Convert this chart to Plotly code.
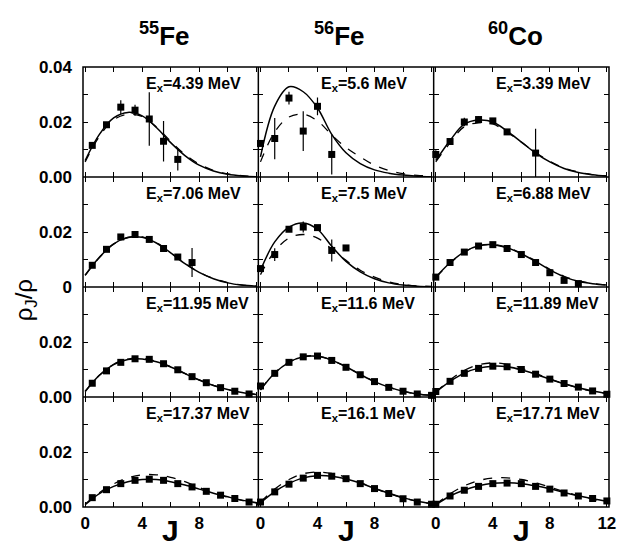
import plotly.graph_objects as go
from plotly.subplots import make_subplots

# ---------------- data ----------------
J_curve = [0, 1, 2, 3, 4, 5, 6, 7, 8, 9, 10, 11, 12]
J_half = [0.5, 1.5, 2.5, 3.5, 4.5, 5.5, 6.5, 7.5, 8.5, 9.5, 10.5, 11.5]
J_int = [0, 1, 2, 3, 4, 5, 6, 7, 8, 9, 10, 11, 12]

col_nuclei = ["55", "56", "60"]
col_elements = ["Fe", "Fe", "Co"]
row_energies = [
    ["4.39", "5.6", "3.39"],
    ["7.06", "7.5", "6.88"],
    ["11.95", "11.6", "11.89"],
    ["17.37", "16.1", "17.71"],
]

# Row 1
fe55_r1_J = [0.5, 1.5, 2.5, 3.5, 4.5, 5.5, 6.5]
fe55_r1_y = [0.0115, 0.0190, 0.0254, 0.0243, 0.0211, 0.0130, 0.0064]
fe55_r1_err = [0.0006, 0.0007, 0.0025, 0.0020, 0.0097, 0.0074, 0.0040]
fe55_r1_solid = [0.0060, 0.0155, 0.0215, 0.0235, 0.0222, 0.0180, 0.0125, 0.0078, 0.0043, 0.0022, 0.0010, 0.0004, 0.0001]
fe55_r1_dash = [0.0055, 0.0148, 0.0208, 0.0228, 0.0220, 0.0182, 0.0130, 0.0082, 0.0047, 0.0024, 0.0011, 0.0005, 0.0002]

fe56_r1_J = [0, 1, 2, 3, 4, 5]
fe56_r1_y = [0.0122, 0.0140, 0.0287, 0.0167, 0.0257, 0.0082]
fe56_r1_err = [0.0005, 0.0075, 0.0023, 0.0072, 0.0032, 0.0073]
fe56_r1_solid = [0.0073, 0.0258, 0.0328, 0.0310, 0.0251, 0.0155, 0.0088, 0.0049, 0.0026, 0.0014, 0.0007, 0.0003, 0.0001]
fe56_r1_dash = [0.0055, 0.0164, 0.0218, 0.0228, 0.0204, 0.0153, 0.0107, 0.0073, 0.0043, 0.0024, 0.0012, 0.0006, 0.0003]

co60_r1_J = [0, 1, 2, 3, 4, 5, 7]
co60_r1_y = [0.0082, 0.0129, 0.0200, 0.0209, 0.0204, 0.0164, 0.0087]
co60_r1_err = [0.0015, 0.0008, 0.0015, 0.0013, 0.0010, 0.0008, 0.0088]
co60_r1_solid = [0.0060, 0.0133, 0.0192, 0.0207, 0.0200, 0.0167, 0.0127, 0.0087, 0.0055, 0.0031, 0.0016, 0.0008, 0.0003]
co60_r1_dash = [0.0055, 0.0124, 0.0183, 0.0197, 0.0193, 0.0163, 0.0127, 0.0089, 0.0057, 0.0033, 0.0018, 0.0009, 0.0004]

# Row 2
fe55_r2_J = [0.5, 1.5, 2.5, 3.5, 4.5, 5.5, 6.5, 7.5]
fe55_r2_y = [0.0079, 0.0137, 0.0182, 0.0191, 0.0173, 0.0140, 0.0109, 0.0089]
fe55_r2_err = [0.0004, 0.0004, 0.0004, 0.0004, 0.0004, 0.0004, 0.0005, 0.0053]
fe55_r2_solid = [0.0043, 0.0108, 0.0157, 0.0180, 0.0181, 0.0160, 0.0124, 0.0085, 0.0053, 0.0030, 0.0015, 0.0007, 0.0003]
fe55_r2_dash = [0.0042, 0.0107, 0.0156, 0.0180, 0.0182, 0.0161, 0.0125, 0.0086, 0.0054, 0.0031, 0.0016, 0.0007, 0.0003]

fe56_r2_J = [0, 1, 2, 3, 4, 5, 6]
fe56_r2_y = [0.0067, 0.0118, 0.0210, 0.0218, 0.0216, 0.0133, 0.0142]
fe56_r2_err = [0.0005, 0.0023, 0.0006, 0.0020, 0.0006, 0.0040, 0.0005]
fe56_r2_solid = [0.0061, 0.0164, 0.0218, 0.0233, 0.0210, 0.0148, 0.0093, 0.0055, 0.0030, 0.0015, 0.0007, 0.0003, 0.0001]
fe56_r2_dash = [0.0045, 0.0130, 0.0178, 0.0191, 0.0178, 0.0138, 0.0097, 0.0061, 0.0036, 0.0019, 0.0009, 0.0004, 0.0002]

co60_r2_J = [0, 1, 2, 3, 4, 5, 6, 7, 8, 9, 10]
co60_r2_y = [0.0036, 0.0089, 0.0127, 0.0149, 0.0154, 0.0140, 0.0118, 0.0089, 0.0052, 0.0024, 0.0012]
co60_r2_err = [0.0003, 0.0003, 0.0003, 0.0003, 0.0003, 0.0003, 0.0003, 0.0003, 0.0004, 0.0005, 0.0005]
co60_r2_solid = [0.0036, 0.0088, 0.0128, 0.0150, 0.0154, 0.0143, 0.0121, 0.0093, 0.0062, 0.0037, 0.0021, 0.0012, 0.0007]
co60_r2_dash = [0.0034, 0.0086, 0.0127, 0.0149, 0.0154, 0.0144, 0.0123, 0.0095, 0.0064, 0.0039, 0.0022, 0.0013, 0.0007]

# Row 3
fe55_r3_y = [0.0050, 0.0095, 0.0126, 0.0139, 0.0137, 0.0121, 0.0099, 0.0074, 0.0052, 0.0034, 0.0021, 0.0011]
fe55_r3_solid = [0.0020, 0.0079, 0.0118, 0.0136, 0.0138, 0.0128, 0.0109, 0.0085, 0.0062, 0.0042, 0.0027, 0.0016, 0.0009]
fe55_r3_dash = [0.0020, 0.0079, 0.0119, 0.0138, 0.0140, 0.0130, 0.0110, 0.0086, 0.0062, 0.0042, 0.0027, 0.0016, 0.0009]

fe56_r3_y = [0.0040, 0.0086, 0.0126, 0.0146, 0.0149, 0.0133, 0.0108, 0.0081, 0.0056, 0.0035, 0.0021, 0.0011, 0.0006]
fe56_r3_solid = [0.0025, 0.0087, 0.0126, 0.0146, 0.0148, 0.0134, 0.0110, 0.0082, 0.0056, 0.0036, 0.0021, 0.0011, 0.0006]
fe56_r3_dash = [0.0027, 0.0088, 0.0127, 0.0147, 0.0149, 0.0134, 0.0110, 0.0082, 0.0056, 0.0036, 0.0021, 0.0011, 0.0006]

co60_r3_y = [0.0020, 0.0057, 0.0086, 0.0104, 0.0112, 0.0110, 0.0100, 0.0083, 0.0065, 0.0049, 0.0036, 0.0022, 0.0010]
co60_r3_solid = [0.0018, 0.0057, 0.0087, 0.0105, 0.0112, 0.0110, 0.0099, 0.0083, 0.0065, 0.0048, 0.0034, 0.0022, 0.0013]
co60_r3_dash = [0.0018, 0.0062, 0.0097, 0.0117, 0.0124, 0.0119, 0.0105, 0.0086, 0.0066, 0.0048, 0.0033, 0.0021, 0.0013]

# Row 4
fe55_r4_y = [0.0034, 0.0063, 0.0085, 0.0097, 0.0101, 0.0097, 0.0085, 0.0073, 0.0057, 0.0043, 0.0031, 0.0018]
fe55_r4_solid = [0.0008, 0.0049, 0.0075, 0.0092, 0.0100, 0.0100, 0.0092, 0.0080, 0.0065, 0.0050, 0.0037, 0.0025, 0.0016]
fe55_r4_dash = [0.0010, 0.0052, 0.0084, 0.0106, 0.0117, 0.0117, 0.0108, 0.0092, 0.0071, 0.0052, 0.0036, 0.0024, 0.0015]

fe56_r4_y = [0.0018, 0.0055, 0.0083, 0.0105, 0.0115, 0.0112, 0.0103, 0.0085, 0.0067, 0.0049, 0.0030, 0.0018, 0.0010]
fe56_r4_solid = [0.0015, 0.0056, 0.0086, 0.0106, 0.0114, 0.0112, 0.0102, 0.0087, 0.0068, 0.0050, 0.0034, 0.0021, 0.0012]
fe56_r4_dash = [0.0018, 0.0065, 0.0100, 0.0121, 0.0127, 0.0122, 0.0108, 0.0089, 0.0068, 0.0049, 0.0033, 0.0021, 0.0012]

co60_r4_y = [0.0010, 0.0040, 0.0061, 0.0075, 0.0085, 0.0087, 0.0085, 0.0075, 0.0065, 0.0051, 0.0040, 0.0031, 0.0022]
co60_r4_solid = [0.0008, 0.0040, 0.0062, 0.0077, 0.0086, 0.0088, 0.0085, 0.0077, 0.0066, 0.0053, 0.0041, 0.0030, 0.0021]
co60_r4_dash = [0.0010, 0.0048, 0.0077, 0.0096, 0.0105, 0.0106, 0.0100, 0.0088, 0.0072, 0.0056, 0.0041, 0.0029, 0.0020]

small_err_half = [0.0003] * len(J_half)
small_err_int = [0.0003] * len(J_int)

y_tickvals = [0, 0.01, 0.02, 0.03, 0.04]
y_ticktext_rows = [
    ["0.00", "", "0.02", "", "0.04"],
    ["0", "", "0.02", "", ""],
    ["0.00", "", "0.02", "", ""],
    ["0.00", "", "0.02", "", ""],
]
x_tickvals = [0, 2, 4, 6, 8, 10, 12]
x_ticktext_cols = [
    ["0", "", "4", "", "8", "", ""],
    ["0", "", "4", "", "8", "", ""],
    ["0", "", "4", "", "8", "", "12"],
]

# panels[row][col] = (points J, points y, errors, solid curve, dashed curve)
panels = [
    [(fe55_r1_J, fe55_r1_y, fe55_r1_err, fe55_r1_solid, fe55_r1_dash),
     (fe56_r1_J, fe56_r1_y, fe56_r1_err, fe56_r1_solid, fe56_r1_dash),
     (co60_r1_J, co60_r1_y, co60_r1_err, co60_r1_solid, co60_r1_dash)],
    [(fe55_r2_J, fe55_r2_y, fe55_r2_err, fe55_r2_solid, fe55_r2_dash),
     (fe56_r2_J, fe56_r2_y, fe56_r2_err, fe56_r2_solid, fe56_r2_dash),
     (co60_r2_J, co60_r2_y, co60_r2_err, co60_r2_solid, co60_r2_dash)],
    [(J_half, fe55_r3_y, small_err_half, fe55_r3_solid, fe55_r3_dash),
     (J_int, fe56_r3_y, small_err_int, fe56_r3_solid, fe56_r3_dash),
     (J_int, co60_r3_y, small_err_int, co60_r3_solid, co60_r3_dash)],
    [(J_half, fe55_r4_y, small_err_half, fe55_r4_solid, fe55_r4_dash),
     (J_int, fe56_r4_y, small_err_int, fe56_r4_solid, fe56_r4_dash),
     (J_int, co60_r4_y, small_err_int, co60_r4_solid, co60_r4_dash)],
]

# ---------------- figure ----------------
FONT = "Liberation Sans"
fig = make_subplots(rows=4, cols=3, horizontal_spacing=0, vertical_spacing=0)

for r in range(4):
    for c in range(3):
        pj, py, pe, sol, das = panels[r][c]
        fig.add_trace(go.Scatter(x=J_curve, y=das, mode="lines", line=dict(color="black", width=1.3, dash="dash", shape="spline"),
                                 showlegend=False, hoverinfo="skip"), row=r + 1, col=c + 1)
        fig.add_trace(go.Scatter(x=J_curve, y=sol, mode="lines", line=dict(color="black", width=1.5, shape="spline"),
                                 showlegend=False, hoverinfo="skip"), row=r + 1, col=c + 1)
        fig.add_trace(go.Scatter(x=pj, y=py, mode="markers",
                                 marker=dict(symbol="square", size=7, color="black"),
                                 error_y=dict(type="data", array=pe, color="black", thickness=1.2, width=0),
                                 showlegend=False, cliponaxis=False), row=r + 1, col=c + 1)
        fig.update_xaxes(row=r + 1, col=c + 1, range=[-0.15, 12.15], tickvals=x_tickvals,
                         ticktext=x_ticktext_cols[c], showticklabels=(r == 3))
        fig.update_yaxes(row=r + 1, col=c + 1, range=[0, 0.04], tickvals=y_tickvals,
                         ticktext=y_ticktext_rows[r], showticklabels=(c == 0))
        idx = r * 3 + c + 1
        suffix = "" if idx == 1 else str(idx)
        fig.add_annotation(x=4.1, y=0.0338, xref="x" + suffix, yref="y" + suffix,
                           text="E<sub>x</sub>=" + row_energies[r][c] + " MeV",
                           showarrow=False, xanchor="left", yanchor="middle",
                           font=dict(family=FONT, size=16, color="black", weight="bold"))

axis_style = dict(showline=False, mirror="allticks",
                  ticks="inside", ticklen=5, tickwidth=1.3, tickcolor="black",
                  showgrid=False, zeroline=False,
                  tickfont=dict(family=FONT, size=17, color="black", weight="bold"))
fig.update_xaxes(**axis_style, ticklabelstandoff=4)
fig.update_yaxes(**axis_style, ticklabelstandoff=10)

# single-stroke panel frame (outer box + shared inner boundaries)
frame = dict(color="black", width=1.5)
fig.add_shape(type="rect", xref="paper", yref="paper", x0=0, y0=0, x1=1, y1=1, line=frame, layer="above")
for k in (1, 2):
    fig.add_shape(type="line", xref="paper", yref="paper", x0=k / 3, x1=k / 3, y0=0, y1=1, line=frame, layer="above")
for k in (1, 2, 3):
    fig.add_shape(type="line", xref="paper", yref="paper", x0=0, x1=1, y0=k / 4, y1=k / 4, line=frame, layer="above")

for c in range(3):
    fig.add_annotation(x=(c + 0.5) / 3 - 0.012, y=1.075, xref="paper", yref="paper",
                       text="<sup>" + col_nuclei[c] + "</sup>" + col_elements[c],
                       showarrow=False, xanchor="center", yanchor="middle",
                       font=dict(family=FONT, size=26, color="black", weight="bold"))
    fig.add_annotation(x=(c + 0.5) / 3, y=-0.012, xref="paper", yref="paper", text="J",
                       showarrow=False, xanchor="center", yanchor="top",
                       font=dict(family=FONT, size=30, color="black", weight="bold"))

fig.add_annotation(x=-0.11, y=0.47, xref="paper", yref="paper", text="ρ<sub>J</sub>/ρ",
                   textangle=-90, showarrow=False, xanchor="center", yanchor="middle",
                   font=dict(family=FONT, size=24, color="black"))

fig.update_layout(width=624, height=544, margin=dict(l=83, r=8, t=67, b=37),
                  plot_bgcolor="white", paper_bgcolor="white")

fig.write_html("out.html")
